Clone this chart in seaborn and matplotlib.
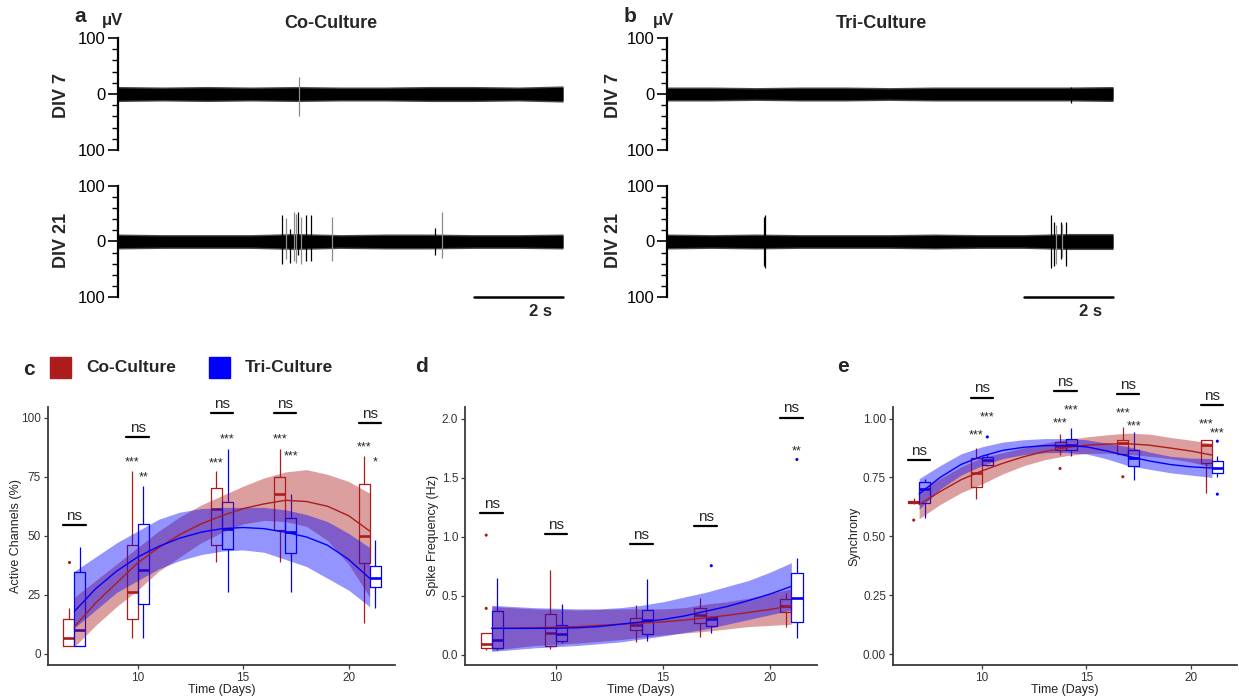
import numpy as np
import pandas as pd
import matplotlib
matplotlib.use("Agg")
import matplotlib.pyplot as plt
from matplotlib.ticker import MultipleLocator, FormatStrFormatter
from matplotlib.patches import Rectangle
import seaborn as sns

sns.set_theme(style="white")
plt.rcParams["font.family"] = ["Liberation Sans", "DejaVu Sans"]

# ---------------------------------------------------------------- data
groups = ["Co-Culture", "Tri-Culture"]
colors = {"Co-Culture": "#AC1C1C", "Tri-Culture": "#0000FF"}
days = [7, 10, 14, 17, 21]
fit_days = [7, 8, 9, 10, 11, 12, 13, 14, 15, 16, 17, 18, 19, 20, 21]

# box statistics per day: [lower whisker, q1, median, q3, upper whisker]
active_co = [[3.4, 3.4, 6.6, 14.8, 19.4], [6.6, 14.8, 26.0, 46.0, 77.3],
             [38.7, 46.2, 61.4, 70.2, 77.3], [38.7, 52.5, 67.7, 74.9, 86.9],
             [13.0, 38.4, 50.1, 71.9, 83.9]]
active_tri = [[3.4, 3.4, 10.2, 34.6, 45.2], [6.6, 21.2, 35.5, 54.9, 70.9],
              [26.0, 44.4, 53.0, 64.5, 86.9], [26.0, 42.9, 51.8, 57.5, 67.7],
              [19.4, 28.2, 32.3, 37.0, 48.0]]
spike_co = [[0.042, 0.062, 0.09, 0.183, 0.183], [0.048, 0.079, 0.183, 0.344, 0.718],
            [0.113, 0.211, 0.254, 0.31, 0.423], [0.149, 0.268, 0.338, 0.40, 0.479],
            [0.24, 0.36, 0.417, 0.473, 0.52]]
spike_tri = [[0.042, 0.062, 0.127, 0.372, 0.654], [0.099, 0.121, 0.175, 0.254, 0.431],
             [0.121, 0.175, 0.296, 0.38, 0.64], [0.189, 0.245, 0.302, 0.324, 0.33],
             [0.147, 0.276, 0.479, 0.696, 0.817]]
sync_co = [[0.636, 0.64, 0.644, 0.651, 0.661], [0.657, 0.71, 0.767, 0.833, 0.873],
           [0.845, 0.866, 0.883, 0.901, 0.936], [0.849, 0.849, 0.897, 0.908, 0.962],
           [0.682, 0.812, 0.887, 0.908, 0.911]]
sync_tri = [[0.576, 0.643, 0.70, 0.732, 0.742], [0.798, 0.802, 0.826, 0.838, 0.849],
            [0.84, 0.866, 0.887, 0.915, 0.96], [0.739, 0.798, 0.833, 0.866, 0.941],
            [0.75, 0.77, 0.791, 0.821, 0.84]]

# outlying observations: (day, value)
active_out_co = [(7, 38.7)]
active_out_tri = []
spike_out_co = [(7, 1.014), (7, 0.394)]
spike_out_tri = [(17, 0.755), (21, 1.654)]
sync_out_co = [(7, 0.569), (14, 0.788), (17, 0.753)]
sync_out_tri = [(10, 0.922), (21, 0.904), (21, 0.679)]

# smoothed trends with confidence bands, one value per day
active_fit_co = [11.5, 21.5, 30, 38.5, 45, 50.5, 55, 58.5, 61.5, 63.5, 65, 64.5, 62.5, 58.5, 52]
active_lo_co = [3, 12, 20, 27, 35, 41, 47, 51.5, 55, 56.5, 56, 54, 48, 38, 24]
active_hi_co = [24, 31, 38, 45, 52, 58, 63, 67, 71, 74.5, 77, 78, 76, 73, 68]
active_fit_tri = [18, 27.5, 35, 41, 45.5, 49, 51.5, 53, 53.5, 53, 51.5, 49.5, 46, 40, 32]
active_lo_tri = [11, 18.5, 26, 31, 36, 39.5, 42, 43.5, 44, 43, 40, 37, 32, 27, 20]
active_hi_tri = [35, 41, 47, 52, 57, 60, 61.5, 62, 62, 62, 61, 59, 56, 51, 45]

spike_fit_co = [0.225, 0.226, 0.23, 0.235, 0.24, 0.25, 0.26, 0.27, 0.28, 0.295, 0.315,
                0.335, 0.36, 0.385, 0.415]
spike_lo_co = [0.04, 0.06, 0.08, 0.09, 0.10, 0.115, 0.13, 0.15, 0.17, 0.185, 0.20,
               0.22, 0.24, 0.25, 0.26]
spike_hi_co = [0.41, 0.40, 0.39, 0.385, 0.38, 0.385, 0.39, 0.39, 0.39, 0.40, 0.43,
               0.45, 0.48, 0.52, 0.56]
spike_fit_tri = [0.225, 0.225, 0.225, 0.226, 0.23, 0.24, 0.26, 0.28, 0.30, 0.33, 0.37,
                 0.41, 0.46, 0.515, 0.58]
spike_lo_tri = [0.03, 0.045, 0.06, 0.07, 0.08, 0.095, 0.11, 0.135, 0.16, 0.19, 0.22,
                0.26, 0.30, 0.34, 0.38]
spike_hi_tri = [0.42, 0.41, 0.40, 0.395, 0.39, 0.39, 0.40, 0.42, 0.45, 0.49, 0.53,
                0.58, 0.63, 0.70, 0.78]

sync_fit_co = [0.635, 0.69, 0.74, 0.778, 0.81, 0.838, 0.86, 0.876, 0.887, 0.892, 0.893,
               0.887, 0.875, 0.862, 0.845]
sync_lo_co = [0.575, 0.635, 0.685, 0.722, 0.765, 0.80, 0.825, 0.842, 0.852, 0.853, 0.848,
              0.84, 0.83, 0.815, 0.795]
sync_hi_co = [0.695, 0.745, 0.795, 0.834, 0.855, 0.876, 0.895, 0.91, 0.922, 0.931, 0.938,
              0.934, 0.92, 0.908, 0.895]
sync_fit_tri = [0.68, 0.75, 0.805, 0.84, 0.865, 0.878, 0.885, 0.886, 0.88, 0.862, 0.84,
                0.82, 0.805, 0.795, 0.79]
sync_lo_tri = [0.615, 0.70, 0.76, 0.80, 0.83, 0.847, 0.855, 0.856, 0.85, 0.828, 0.80,
               0.785, 0.77, 0.76, 0.75]
sync_hi_tri = [0.745, 0.80, 0.85, 0.88, 0.90, 0.91, 0.915, 0.915, 0.91, 0.895, 0.88,
               0.858, 0.84, 0.832, 0.83]

# significance annotations
active_ns = [54.7, 91.7, 102, 102, 97.7]
spike_ns = [1.203, 1.026, 0.938, 1.093, 2.009]
sync_ns = [0.823, 1.089, 1.116, 1.103, 1.059]
# (day, group, label, y)
active_stars = [(10, "Co-Culture", "***", 82.9), (10, "Tri-Culture", "**", 76.8),
                (14, "Co-Culture", "***", 82.6), (14, "Tri-Culture", "***", 92.8),
                (17, "Co-Culture", "***", 92.8), (17, "Tri-Culture", "***", 85.5),
                (21, "Co-Culture", "***", 89.5), (21, "Tri-Culture", "*", 82.9)]
spike_stars = [(21, "Tri-Culture", "**", 1.76)]
sync_stars = [(10, "Co-Culture", "***", 0.95), (10, "Tri-Culture", "***", 1.025),
              (14, "Co-Culture", "***", 1.0), (14, "Tri-Culture", "***", 1.052),
              (17, "Co-Culture", "***", 1.042), (17, "Tri-Culture", "***", 0.986),
              (21, "Co-Culture", "***", 0.996), (21, "Tri-Culture", "***", 0.958)]

# raw voltage traces: noise envelope (uV) sampled each second, spikes (s, top, bottom, shade)
trace_t = [0, 1, 2, 3, 4, 5, 6, 7, 8, 9, 10]
co7_env = [11, 10, 11, 10, 11, 10, 10, 11, 11, 10, 12]
co21_env = [11, 10, 10, 10, 12, 10, 11, 11, 10, 10, 11]
tri7_env = [10, 10, 9, 10, 10, 9, 10, 10, 10, 10, 11]
tri21_env = [11, 10, 11, 10, 10, 10, 11, 10, 10, 12, 12]
co7_spikes = [(4.07, 31, -40, "#8c8c8c")]
co21_spikes = [(3.69, 47, -40, "black"), (3.78, 42, -31, "#8c8c8c"),
               (3.87, 22, -38, "black"), (3.96, 53, -35, "#8c8c8c"),
               (4.00, 50, -38, "#8c8c8c"), (4.05, 53, -25, "black"),
               (4.11, 44, -40, "#8c8c8c"), (4.22, 47, -35, "black"),
               (4.34, 47, -36, "black"), (4.80, 44, -36, "#8c8c8c"),
               (7.12, 24, -25, "black"), (7.28, 53, -29, "#8c8c8c")]
tri7_spikes = [(9.05, 12, -16, "black")]
tri21_spikes = [(2.18, 44, -44, "black"), (2.20, 47, -47, "black"),
                (8.61, 47, -47, "black"), (8.68, 35, -44, "black"),
                (8.73, 30, -40, "#8c8c8c"), (8.84, 35, -31, "black"),
                (8.86, 32, -28, "#8c8c8c"), (8.95, 36, -44, "black")]

# ---------------------------------------------------------------- layout
W, H = 1239, 698
fig = plt.figure(figsize=(W / 100, H / 100), dpi=100)


def px_axes(x0, y0, x1, y1):
    return fig.add_axes([x0 / W, 1 - y1 / H, (x1 - x0) / W, (y1 - y0) / H])


def draw_trace(ax, env, spikes, scalebar=False):
    env = np.asarray(env, dtype=float)
    ax.fill_between(trace_t, -env - 2.5, env + 2.5, color="#4a4a4a", lw=0)
    ax.fill_between(trace_t, -env, env, color="black", lw=0)
    for t, top, bot, shade in spikes:
        ax.vlines(t, bot, top, color=shade, lw=0.9)
    ax.set_xlim(0, 10)
    ax.set_ylim(-100, 100)
    for s in ["top", "right", "bottom"]:
        ax.spines[s].set_visible(False)
    ax.spines["left"].set_linewidth(1.6)
    ax.spines["left"].set_color("black")
    ax.set_xticks([])
    ax.set_yticks([-100, 0, 100])
    ax.set_yticklabels(["100", "0", "100"])
    ax.yaxis.set_minor_locator(MultipleLocator(20))
    ax.tick_params(axis="y", which="major", length=7, width=1.2, color="black",
                   labelsize=12, pad=2, left=True, labelcolor="black")
    ax.tick_params(axis="y", which="minor", length=4, width=1.0, color="black", left=True)
    ax.set_facecolor("none")
    if scalebar:
        ax.plot([8, 10], [-100, -100], color="black", lw=1.8, clip_on=False)
        ax.annotate("2 s", (9.5, -100), xytext=(0, -5), textcoords="offset points",
                    ha="center", va="top", fontsize=12, fontweight="bold")


def row_label(x, y, txt):
    fig.text(x / W, 1 - y / H, txt, rotation=90, ha="center", va="center",
             fontsize=13, fontweight="bold")


a7 = px_axes(118, 38, 563, 150)
a21 = px_axes(118, 186, 563, 297)
b7 = px_axes(667, 38, 1113, 150)
b21 = px_axes(667, 186, 1113, 297)
draw_trace(a7, co7_env, co7_spikes)
draw_trace(a21, co21_env, co21_spikes, scalebar=True)
draw_trace(b7, tri7_env, tri7_spikes)
draw_trace(b21, tri21_env, tri21_spikes, scalebar=True)

for x0, title, letter in [(0, "Co-Culture", "a"), (550, "Tri-Culture", "b")]:
    fig.text((80 + x0) / W, 1 - 17 / H, letter, ha="center", va="center",
             fontsize=15, fontweight="bold")
    fig.text((113 + x0) / W, 1 - 21 / H, "\u03bcV", ha="center", va="center",
             fontsize=12, fontweight="bold")
    fig.text((331 + x0) / W, 1 - 23 / H, title, ha="center", va="center",
             fontsize=13, fontweight="bold")
row_label(62, 96, "DIV 7")
row_label(62, 241, "DIV 21")
row_label(613, 96, "DIV 7")
row_label(613, 241, "DIV 21")

# legend for the lower row
fig.text(29 / W, 1 - 369 / H, "c", ha="center", va="center", fontsize=15, fontweight="bold")
for sx, g in [(50, "Co-Culture"), (209, "Tri-Culture")]:
    fig.patches.append(Rectangle((sx / W, 1 - 378 / H), 21 / W, 21 / H,
                                 transform=fig.transFigure, color=colors[g]))
    fig.text((sx + 36) / W, 1 - 368 / H, g, ha="left", va="center",
             fontsize=12.5, fontweight="bold")
fig.text(422 / W, 1 - 367 / H, "d", ha="center", va="center", fontsize=15, fontweight="bold")
fig.text(843 / W, 1 - 367 / H, "e", ha="center", va="center", fontsize=15, fontweight="bold")


def box_frame(co, tri):
    rows = []
    for g, stats in [("Co-Culture", co), ("Tri-Culture", tri)]:
        for d, vals in zip(days, stats):
            for v in vals:
                rows.append({"day": d, "group": g, "value": v})
    return pd.DataFrame(rows)


def fit_frame(fits):
    rows = []
    for g, (line, lo, hi) in fits.items():
        for d, m, l, h in zip(fit_days, line, lo, hi):
            rows.append({"day": d, "group": g, "fit": m, "lo": l, "hi": h})
    return pd.DataFrame(rows)


def panel(ax, co, tri, out_co, out_tri, fits, ns_y, stars, ylim, yticks, fmt,
          ylabel, ylabel_x):
    df = box_frame(co, tri)
    sns.boxplot(data=df, x="day", y="value", hue="group", hue_order=groups,
                palette=colors, native_scale=True, width=0.35, gap=0,
                fill=False, whis=(0, 100), linewidth=0.9, legend=False,
                medianprops={"linewidth": 1.9},
                capprops={"linewidth": 0}, ax=ax)
    for p in ax.patches:
        p.set_facecolor("white")
        p.set_zorder(1)
    for ln in ax.lines:
        ln.set_zorder(1.5)

    fdf = fit_frame(fits)
    for g in groups:
        sub = fdf[fdf.group == g]
        ax.fill_between(sub["day"], sub["lo"], sub["hi"], color=colors[g],
                        alpha=0.42, lw=0, zorder=3)
    sns.lineplot(data=fdf, x="day", y="fit", hue="group", hue_order=groups,
                 palette=colors, lw=1.0, legend=False, ax=ax, zorder=4)

    odf = pd.DataFrame([{"day": d + off, "value": v, "group": g}
                        for g, pts, off in [("Co-Culture", out_co, -0.26),
                                            ("Tri-Culture", out_tri, 0.26)]
                        for d, v in pts], columns=["day", "value", "group"])
    if len(odf):
        sns.scatterplot(data=odf, x="day", y="value", hue="group", hue_order=groups,
                        palette=colors, s=5, linewidth=0, legend=False, ax=ax,
                        zorder=5)

    for d, y in zip(days, ns_y):
        ax.plot([d - 0.53, d + 0.53], [y, y], color="black", lw=1.6,
                clip_on=False, zorder=6)
        ax.annotate("ns", (d, y), xytext=(0, 1.5), textcoords="offset points",
                    ha="center", va="bottom", fontsize=11, annotation_clip=False)
    for d, g, lab, y in stars:
        off = -0.26 if g == "Co-Culture" else 0.26
        ax.annotate(lab, (d + off, y), xytext=(0, -5.5), textcoords="offset points",
                    ha="center", va="baseline", fontsize=9, annotation_clip=False)

    ax.set_xlim(5.75, 22.2)
    ax.set_ylim(*ylim)
    ax.set_xticks([10, 15, 20])
    ax.set_yticks(yticks)
    ax.yaxis.set_major_formatter(FormatStrFormatter(fmt))
    for s in ["top", "right"]:
        ax.spines[s].set_visible(False)
    for s in ["left", "bottom"]:
        ax.spines[s].set_color("#3a3a3a")
        ax.spines[s].set_linewidth(1.3)
    ax.tick_params(axis="both", length=3, width=0.9, color="#3a3a3a",
                   labelsize=8.5, labelcolor="#333333", pad=2, bottom=True, left=True)
    ax.set_xlabel("Time (Days)", fontsize=9, color="#222222")
    ax.set_ylabel(ylabel, fontsize=9, color="#222222")
    ax.xaxis.set_label_coords(0.5, -0.072)
    ax.yaxis.set_label_coords(ylabel_x, 0.5)
    ax.set_facecolor("none")


axc = px_axes(48, 407, 395, 665)
axd = px_axes(465, 407, 817, 665)
axe = px_axes(893, 407, 1237, 665)

panel(axc, active_co, active_tri, active_out_co, active_out_tri,
      {"Co-Culture": (active_fit_co, active_lo_co, active_hi_co),
       "Tri-Culture": (active_fit_tri, active_lo_tri, active_hi_tri)},
      active_ns, active_stars, (-4.7, 104.5), [0, 25, 50, 75, 100], "%d",
      "Active Channels (%)", -0.075)
panel(axd, spike_co, spike_tri, spike_out_co, spike_out_tri,
      {"Co-Culture": (spike_fit_co, spike_lo_co, spike_hi_co),
       "Tri-Culture": (spike_fit_tri, spike_lo_tri, spike_hi_tri)},
      spike_ns, spike_stars, (-0.085, 2.098), [0.0, 0.5, 1.0, 1.5, 2.0], "%.1f",
      "Spike Frequency (Hz)", -0.075)
panel(axe, sync_co, sync_tri, sync_out_co, sync_out_tri,
      {"Co-Culture": (sync_fit_co, sync_lo_co, sync_hi_co),
       "Tri-Culture": (sync_fit_tri, sync_lo_tri, sync_hi_tri)},
      sync_ns, sync_stars, (-0.046, 1.049), [0.0, 0.25, 0.5, 0.75, 1.0], "%.2f",
      "Synchrony", -0.095)

fig.savefig("out.png", dpi=100, facecolor="white")
